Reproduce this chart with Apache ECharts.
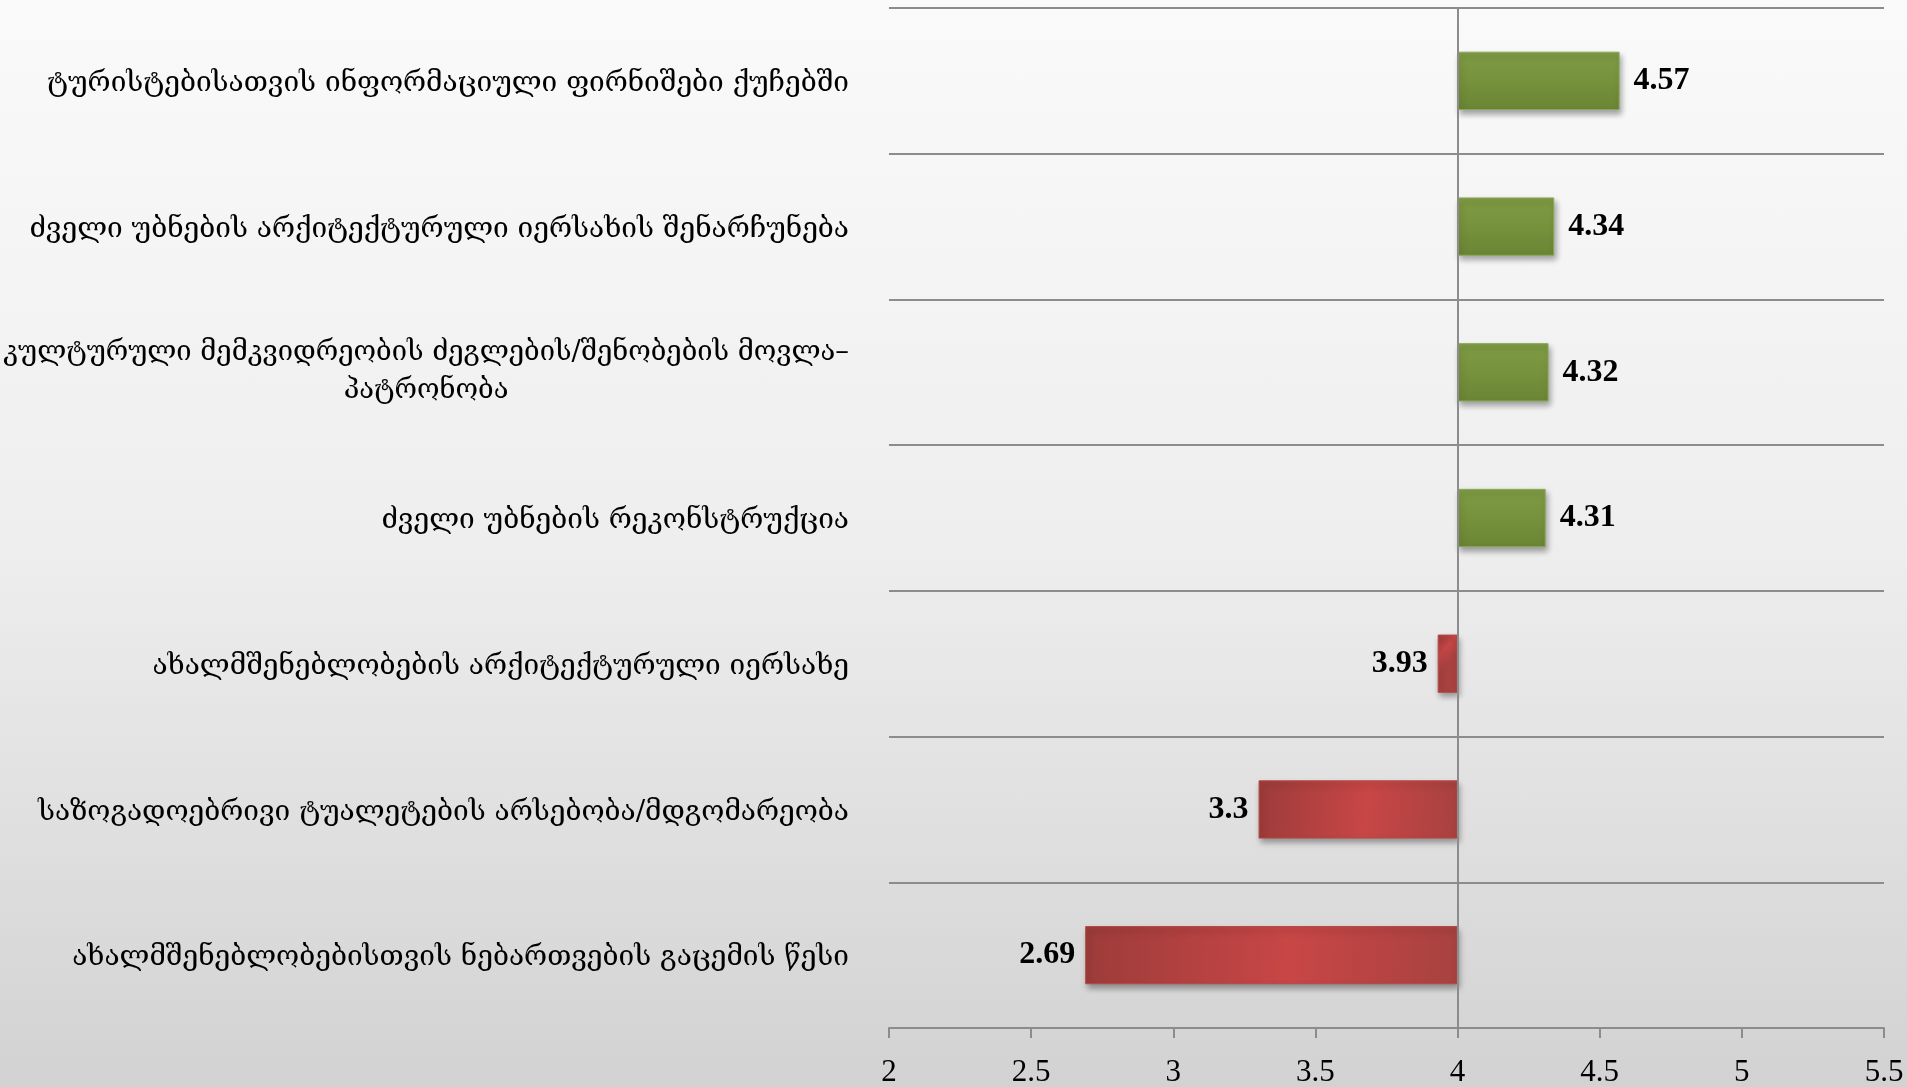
<!DOCTYPE html>
<html>
<head>
<meta charset="utf-8">
<script src="https://cdn.jsdelivr.net/npm/echarts@6/dist/echarts.min.js"></script>
<style>
html,body{margin:0;padding:0;width:100%;height:100%;}
body{background:linear-gradient(to bottom,#fafafa 0%,#eeeeee 50%,#d2d2d2 100%);}
#chart{width:1907px;height:1087px;}
</style>
</head>
<body>
<div id="chart"></div>
<script>
const categories = [
  'ტურისტებისათვის ინფორმაციული ფირნიშები ქუჩებში',
  'ძველი უბნების არქიტექტურული იერსახის შენარჩუნება',
  'კულტურული მემკვიდრეობის ძეგლების/შენობების მოვლა–\nპატრონობა',
  'ძველი უბნების რეკონსტრუქცია',
  'ახალმშენებლობების არქიტექტურული იერსახე',
  'საზოგადოებრივი ტუალეტების არსებობა/მდგომარეობა',
  'ახალმშენებლობებისთვის ნებართვების გაცემის წესი'
];
const values = [4.57, 4.34, 4.32, 4.31, 3.93, 3.3, 2.69];
const baseline = 4;
const xTicks = {min: 2, max: 5.5, interval: 0.5};

const greenFill = {type:'linear',x:0,y:0,x2:0,y2:1,colorStops:[
  {offset:0,color:'#7f9c45'},{offset:0.5,color:'#76923c'},{offset:1,color:'#6a8535'}]};
const redFill = {type:'linear',x:0,y:0,x2:1,y2:0.3,colorStops:[
  {offset:0,color:'#9c3c3a'},{offset:0.55,color:'#c84646'},{offset:1,color:'#a84240'}]};

const baseData = values.map(v => Math.min(v, baseline));
const deltaData = values.map(v => {
  const up = v >= baseline;
  return {
    value: Math.abs(v - baseline),
    orig: v,
    itemStyle: {
      color: up ? greenFill : redFill,
      borderColor: up ? '#8aa856' : '#b54a48',
      borderWidth: 1,
      shadowColor: 'rgba(0,0,0,0.35)',
      shadowBlur: 6,
      shadowOffsetX: 2,
      shadowOffsetY: 4
    },
    label: {
      position: up ? 'right' : 'left',
      distance: up ? 14 : 10
    }
  };
});

const labelFont = '"DejaVu Serif", "DejaVu Sans", sans-serif';
const chart = echarts.init(document.getElementById('chart'), null, {renderer:'canvas'});
chart.setOption({
  backgroundColor: 'transparent',
  animation: false,
  grid: {left: 889, right: 23, top: 8, bottom: 59, containLabel: false, outerBoundsMode: 'none'},
  xAxis: {
    type: 'value',
    min: xTicks.min, max: xTicks.max, interval: xTicks.interval,
    axisLine: {show: true, lineStyle: {color: '#8c8c8c', width: 2}},
    axisTick: {show: true, length: 10, lineStyle: {color: '#8c8c8c', width: 2}},
    splitLine: {show: false},
    axisLabel: {
      margin: 29,
      color: '#000',
      fontFamily: '"Liberation Serif", serif',
      fontSize: 31
    }
  },
  yAxis: {
    type: 'category',
    inverse: true,
    data: categories,
    axisLine: {show: false},
    axisTick: {show: false},
    splitLine: {show: true, lineStyle: {color: '#8c8c8c', width: 2}},
    axisLabel: {
      margin: 40,
      color: '#000',
      fontFamily: labelFont,
      fontSize: 28,
      lineHeight: 38,
      formatter: function (val) {
        const parts = val.split('\n');
        if (parts.length === 1) return '{a|' + val + '}';
        return parts.map(p => '{c|' + p + '}').join('\n');
      },
      rich: {
        a: {fontFamily: labelFont, fontSize: 28, color: '#000', lineHeight: 38, padding: [6, 0, 0, 0]},
        c: {fontFamily: labelFont, fontSize: 27.3, color: '#000', lineHeight: 38, align: 'center'}
      }
    }
  },
  series: [
    {
      type: 'bar',
      stack: 'total',
      data: baseData,
      barWidth: '40%',
      itemStyle: {color: 'transparent'},
      emphasis: {disabled: true},
      silent: true,
      markLine: {
        silent: true,
        symbol: 'none',
        label: {show: false},
        lineStyle: {color: '#8c8c8c', width: 2, type: 'solid'},
        data: [{xAxis: baseline}]
      }
    },
    {
      type: 'bar',
      stack: 'total',
      data: deltaData,
      barWidth: '40%',
      label: {
        show: true,
        color: '#000',
        fontFamily: '"Liberation Serif", serif',
        fontWeight: 'bold',
        fontSize: 32,
        padding: [6, 0, 0, 0],
        formatter: p => String(p.data.orig)
      }
    }
  ]
});
</script>
</body>
</html>
